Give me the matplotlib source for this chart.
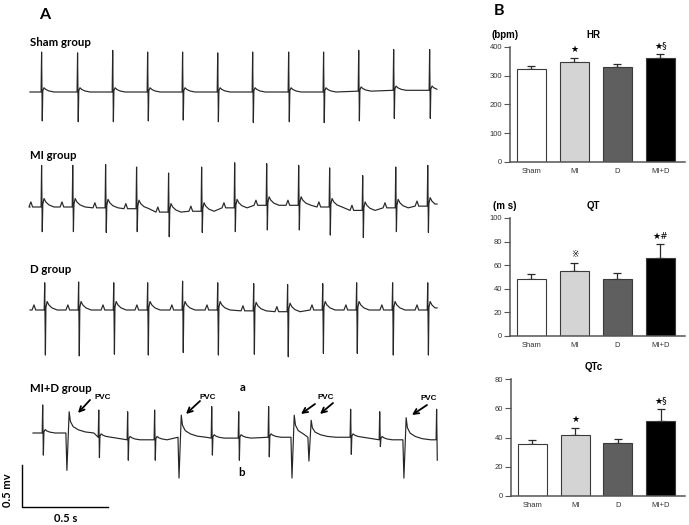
import matplotlib
matplotlib.use('Agg')
import matplotlib.pyplot as plt
import numpy as np

plt.rcParams['font.family'] = ['Liberation Sans', 'DejaVu Sans']

# ---------------- data ----------------
# ECG traces: beat times (s, from trace start), R / S amplitudes (mV),
# baseline shift (mV) read from the recordings
sham_t = [0.069, 0.277, 0.480, 0.682, 0.884, 1.087, 1.289, 1.497, 1.699, 1.902, 2.104, 2.312]
sham_r = [0.47, 0.46, 0.49, 0.47, 0.47, 0.46, 0.47, 0.47, 0.47, 0.48, 0.48, 0.48]
sham_s = [0.34, 0.35, 0.35, 0.34, 0.33, 0.35, 0.36, 0.35, 0.36, 0.35, 0.33, 0.33]
sham_b = [0.0, 0.0, 0.0, 0.0, 0.0, 0.0, 0.0, 0.0, 0.0, 0.01, 0.02, 0.02]

mi_t = [0.069, 0.249, 0.439, 0.618, 0.803, 0.994, 1.185, 1.370, 1.555, 1.734, 1.925, 2.116, 2.301]
mi_r = [0.49, 0.49, 0.51, 0.49, 0.46, 0.52, 0.53, 0.49, 0.47, 0.46, 0.41, 0.48, 0.48]
mi_s = [0.29, 0.29, 0.29, 0.27, 0.29, 0.25, 0.28, 0.29, 0.29, 0.33, 0.32, 0.28, 0.31]
mi_b = [0.0, 0.0, -0.01, -0.02, -0.06, -0.05, -0.01, 0.02, 0.02, 0.0, -0.04, -0.01, 0.01]

d_t = [0.087, 0.283, 0.486, 0.682, 0.884, 1.087, 1.295, 1.491, 1.694, 1.890, 2.098, 2.301]
d_r = [0.32, 0.33, 0.32, 0.32, 0.34, 0.32, 0.32, 0.32, 0.31, 0.32, 0.32, 0.32]
d_s = [0.53, 0.54, 0.52, 0.53, 0.50, 0.53, 0.51, 0.53, 0.51, 0.51, 0.53, 0.53]
d_b = [0.0, 0.0, 0.0, 0.0, 0.0, 0.0, -0.01, -0.02, 0.0, 0.0, 0.0, 0.0]

mid_t = [0.058, 0.382, 0.549, 0.705, 1.035, 1.191, 1.364, 1.838, 2.006, 2.335]
mid_r = [0.33, 0.32, 0.33, 0.35, 0.37, 0.31, 0.36, 0.33, 0.33, 0.36]
mid_s = [0.26, 0.24, 0.24, 0.24, 0.20, 0.26, 0.23, 0.20, 0.08, 0.24]
mid_b = [0.0, -0.05, -0.08, -0.08, -0.06, -0.06, -0.05, -0.05, -0.08, -0.08]
pvc_t = [0.202, 0.850, 1.503, 1.601, 2.150]
pvc_neg = [0.44, 0.48, 0.48, 0.28, 0.45]
pvc_pos = [0.25, 0.26, 0.26, 0.20, 0.26]
pvc_b = [0.0, -0.05, -0.05, -0.05, -0.08]

# bar charts
groups = ['Sham', 'MI', 'D', 'MI+D']
hr_mean = [322, 347, 330, 361]
hr_err = [11, 16, 11, 15]
qt_mean = [48.7, 55.2, 48.7, 66.0]
qt_err = [4.0, 6.6, 4.6, 11.6]
qtc_mean = [35.5, 41.8, 36.4, 51.4]
qtc_err = [2.9, 5.0, 2.9, 8.4]
hr_marks = ['', '★', '', '★§']
qt_marks = ['', '※', '', '★#']
qtc_marks = ['', '★', '', '★§']

# ---------------- layout ----------------
W, H = 689, 525
PX_S = 173.0    # pixels per second
PX_MV = 85.0    # pixels per mV

fig = plt.figure(figsize=(W / 100, H / 100), dpi=100)
axA = fig.add_axes([0, 0, 1, 1])
axA.set_xlim(0, W / PX_S)
axA.set_ylim(-H / PX_MV, 0)
axA.axis('off')


def P(x, y):
    return x / PX_S, -y / PX_MV


def normal_pts(tb, b, r, s, p, tw):
    pts = []
    if p:
        pts += [(tb - 0.075, b), (tb - 0.064, b + p), (tb - 0.054, b)]
    pts += [(tb - 0.005, b), (tb - 0.002, b + r), (tb + 0.002, b - s),
            (tb + 0.005, b + 0.3 * tw), (tb + 0.012, b + tw), (tb + 0.022, b + 0.6 * tw),
            (tb + 0.04, b + 0.25 * tw), (tb + 0.07, b)]
    return pts


def pvc_pts(tb, b, neg, pos):
    return [(tb - 0.012, b), (tb - 0.006, b - neg), (tb + 0.007, b + pos),
            (tb + 0.014, b + 0.55 * pos), (tb + 0.03, b + 0.3 * pos),
            (tb + 0.06, b + 0.15 * pos), (tb + 0.1, b + 0.05 * pos), (tb + 0.15, b)]


def draw_trace(events, x0, y0, t_end):
    events = sorted(events, key=lambda e: e[0][0])
    pts = [(0.0, events[0][0][1])]
    for i, kp in enumerate(events):
        if i + 1 < len(events):
            nxt = events[i + 1][0][0]
            kp = [q for q in kp if q[0] < nxt]
        pts += kp
    pts = [q for q in pts if q[0] <= t_end]
    if pts[-1][0] < t_end - 0.01:
        pts.append((t_end, pts[-1][1]))
    t = np.array([q[0] for q in pts])
    v = np.array([q[1] for q in pts])
    axA.plot(t + x0 / PX_S, v - y0 / PX_MV, color='#262626', lw=0.85)


draw_trace([normal_pts(t, b, r, s, 0, 0.05) for t, b, r, s in zip(sham_t, sham_b, sham_r, sham_s)],
           30, 92, 2.353)
draw_trace([normal_pts(t, b, r, s, 0.06, 0.1) for t, b, r, s in zip(mi_t, mi_b, mi_r, mi_s)],
           30, 207, 2.353)
draw_trace([normal_pts(t, b, r, s, 0.06, 0.1) for t, b, r, s in zip(d_t, d_b, d_r, d_s)],
           30, 310, 2.353)
ev = [normal_pts(t, b, r, s, 0, 0.04) for t, b, r, s in zip(mid_t, mid_b, mid_r, mid_s)]
ev += [pvc_pts(t, b, n, p) for t, b, n, p in zip(pvc_t, pvc_b, pvc_neg, pvc_pos)]
draw_trace(ev, 33, 433, 2.338)

lab = dict(family=['Lato', 'DejaVu Sans'], fontweight='bold', fontsize=8.2, va='center', ha='left')
axA.text(*P(30, 42), 'Sham group', **lab)
axA.text(*P(30, 155), 'MI group', **lab)
axA.text(*P(30, 269), 'D group', **lab)
axA.text(*P(30, 389), 'MI+D group', **lab)
axA.text(*P(45, 15), 'A', family=['Lato', 'DejaVu Sans'], fontweight='bold', fontsize=11.5,
         ha='center', va='center')
axA.text(*P(499, 11), 'B', family=['Lato', 'DejaVu Sans'], fontweight='bold', fontsize=11.5,
         ha='center', va='center')
axA.text(*P(243, 387), 'a', **dict(lab, ha='center'))
axA.text(*P(242, 472), 'b', **dict(lab, ha='center'))

# PVC arrows
arrows = [((90, 400), (78, 413), (103, 397)),
          ((200, 401), (186, 414), (208, 397)),
          ((315, 404), (301, 414), None),
          ((333, 403), (320, 414), (326, 397)),
          ((427, 405), (412, 415), (429, 398))]
for tail, head, txt in arrows:
    axA.annotate('', xy=P(*head), xytext=P(*tail),
                 arrowprops=dict(arrowstyle='->', lw=1.3, color='k', mutation_scale=9,
                                 shrinkA=0, shrinkB=0))
    if txt:
        axA.text(*P(*txt), 'PVC', fontsize=5.8, fontweight='bold', ha='center', va='center')

# scale bar
sx, sy = P(22, 507)
axA.plot([sx, sx, sx + 0.5], [sy + 0.5, sy, sy], color='k', lw=1.0)
axA.text(*P(8, 490), '0.5 mv', rotation=90, ha='center', va='center',
         family=['Lato', 'DejaVu Sans'], fontweight='bold', fontsize=8)
axA.text(*P(66, 518), '0.5 s', ha='center', va='center',
         family=['Lato', 'DejaVu Sans'], fontweight='bold', fontsize=8)

# ---------------- bar charts ----------------
colors = ['white', '#d4d4d4', '#5f5f5f', 'black']
x = np.arange(len(groups))


def bar_panel(left, right, top, bottom, mean, err, marks, ymax, step, title, unit):
    ax = fig.add_axes([left / W, 1 - bottom / H, (right - left) / W, (bottom - top) / H])
    ax.bar(x, mean, width=0.674, color=colors, edgecolor='#3a3a3a', linewidth=0.8, zorder=2)
    ax.errorbar(x, mean, yerr=[np.zeros(len(x)), err], fmt='none', ecolor='#2a2a2a',
                elinewidth=0.9, capsize=3.2, capthick=0.9, zorder=1)
    ax.set_xlim(-0.5, 3.57)
    ax.set_ylim(0, ymax)
    ax.set_yticks(np.arange(0, ymax + 1, step))
    ax.set_xticks(x)
    ax.set_xticklabels(groups)
    for sp in ['top', 'right']:
        ax.spines[sp].set_visible(False)
    for sp in ['left', 'bottom']:
        ax.spines[sp].set_color('#555555')
        ax.spines[sp].set_linewidth(1.1)
    ax.tick_params(axis='y', direction='out', length=4, width=0.8, color='#555555',
                   labelsize=5.5, labelcolor='#333333', pad=1.5)
    ax.tick_params(axis='x', length=0, labelsize=5.5, labelcolor='#333333', pad=4)
    ax.patch.set_alpha(0)
    for xi, m, e, mk in zip(x, mean, err, marks):
        if mk:
            ax.annotate(mk, (xi, m + e), xytext=(0, 6), textcoords='offset points',
                        ha='center', va='center', fontsize=6.5,
                        family=['DejaVu Sans', 'Noto Sans CJK SC'])
    cx = (left + right) / 2
    axA.text(*P(cx - 4, top - 12), title, fontsize=7, fontweight='bold',
             ha='center', va='center')
    if unit:
        axA.text(*P(505, top - 12), unit, fontsize=7, fontweight='bold',
                 ha='center', va='center')
    return ax


bar_panel(510, 685, 47, 162, hr_mean, hr_err, hr_marks, 400, 100, 'HR', '(bpm)')
bar_panel(510, 685, 218, 336, qt_mean, qt_err, qt_marks, 100, 20, 'QT', '(m s)')
bar_panel(511, 685, 379, 496, qtc_mean, qtc_err, qtc_marks, 80, 20, 'QTc', None)

fig.savefig('out.png', dpi=100)
